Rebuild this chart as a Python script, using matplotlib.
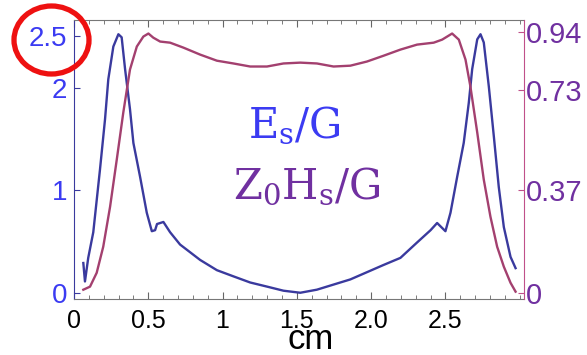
import matplotlib
matplotlib.use("Agg")
import matplotlib.pyplot as plt
from matplotlib.patches import Ellipse
from matplotlib.ticker import MultipleLocator

plt.rcParams['font.family'] = ['Liberation Sans', 'DejaVu Sans']
plt.rcParams['mathtext.fontset'] = 'dejavuserif'

# E_s/G (left axis)
es_x = [0.063, 0.074, 0.096, 0.130, 0.175, 0.209, 0.231, 0.265, 0.299, 0.321,
        0.344, 0.377, 0.400, 0.445, 0.490, 0.524, 0.546, 0.559, 0.602, 0.647,
        0.714, 0.849, 0.962, 1.073, 1.186, 1.299, 1.410, 1.523, 1.635, 1.860,
        2.082, 2.197, 2.309, 2.400, 2.444, 2.500, 2.534, 2.579, 2.623, 2.657,
        2.680, 2.714, 2.736, 2.758, 2.792, 2.826, 2.859, 2.893, 2.938, 2.972]
es_y = [0.29, 0.11, 0.34, 0.59, 1.20, 1.69, 2.08, 2.40, 2.52, 2.49,
        2.18, 1.79, 1.46, 1.13, 0.78, 0.60, 0.61, 0.67, 0.69, 0.59,
        0.47, 0.32, 0.22, 0.16, 0.10, 0.06, 0.02, 0.00, 0.03, 0.13,
        0.27, 0.34, 0.49, 0.61, 0.68, 0.60, 0.78, 1.13, 1.46, 1.85,
        2.18, 2.47, 2.52, 2.44, 2.01, 1.52, 1.03, 0.64, 0.35, 0.24]

# Z0 H_s/G (right axis)
hs_x = [0.063, 0.108, 0.153, 0.197, 0.243, 0.288, 0.332, 0.377, 0.423, 0.467,
        0.501, 0.534, 0.580, 0.647, 0.737, 0.849, 0.962, 1.073, 1.186, 1.299,
        1.410, 1.523, 1.635, 1.747, 1.860, 1.972, 2.084, 2.197, 2.309, 2.421,
        2.478, 2.545, 2.590, 2.635, 2.668, 2.714, 2.758, 2.803, 2.848, 2.893,
        2.938, 2.972]
hs_y = [0.011, 0.022, 0.072, 0.166, 0.310, 0.480, 0.650, 0.805, 0.888, 0.924,
        0.935, 0.920, 0.906, 0.902, 0.884, 0.859, 0.837, 0.827, 0.816, 0.816,
        0.827, 0.830, 0.827, 0.816, 0.819, 0.834, 0.855, 0.877, 0.895, 0.902,
        0.913, 0.935, 0.913, 0.841, 0.744, 0.578, 0.408, 0.274, 0.166, 0.094,
        0.036, 0.004]

x_ticks = [0, 0.5, 1, 1.5, 2, 2.5]
x_labels = ['0', '0.5', '1', '1.5', '2.0', '2.5']
left_ticks = [0, 1, 2, 2.5]
left_labels = ['0', '1', '2', '2.5']
right_ticks = [0, 0.37, 0.73, 0.94]
right_labels = ['0', '0.37', '0.73', '0.94']

blue_line = '#3a3a9e'
red_line = '#a3406f'
blue_txt = '#3b3bf2'
purple_txt = '#7030a0'

fig = plt.figure(figsize=(5.87, 3.55), dpi=100)
ax = fig.add_axes([0.126, 0.158, 0.767, 0.786])
ax2 = ax.twinx()

ax.plot(es_x, es_y, color=blue_line, lw=1.7, zorder=3, solid_joinstyle='round')
ax2.plot(hs_x, hs_y, color=red_line, lw=1.7, solid_joinstyle='round')

ylo, yhi = -0.06, 2.66
scale = 0.37
ax.set_xlim(0, 3.03)
ax.set_ylim(ylo, yhi)
ax2.set_ylim(ylo * scale, yhi * scale)

ax.set_xticks(x_ticks)
ax.set_xticklabels(x_labels, fontsize=18)
ax.xaxis.set_minor_locator(MultipleLocator(0.1))
ax.set_yticks(left_ticks)
ax.set_yticklabels(left_labels, fontsize=20, color=blue_txt)
ax2.set_yticks(right_ticks)
ax2.set_yticklabels(right_labels, fontsize=21, color=purple_txt)

ax.tick_params(axis='x', which='both', direction='in', top=True, color='#666666', pad=7)
ax.tick_params(axis='x', which='major', length=5)
ax.tick_params(axis='x', which='minor', length=3)
ax.tick_params(axis='y', direction='in', length=4, color=blue_line, pad=5)
ax2.tick_params(axis='y', direction='in', length=4, color='#c0508a', pad=1)

for s in ['top', 'bottom']:
    ax.spines[s].set_color('#777777')
ax.spines['left'].set_color(blue_line)
ax.spines['right'].set_visible(False)
for s in ['top', 'bottom', 'left']:
    ax2.spines[s].set_visible(False)
ax2.spines['right'].set_color('#c0508a')

fig.text(311 / 587, 1 - 349 / 355, 'cm', fontsize=25, ha='center', va='baseline')
fig.text(248 / 587, 1 - 137 / 355, r'$\mathrm{E_s/G}$', fontsize=30,
         color=blue_txt, ha='left', va='baseline')
fig.text(233 / 587, 1 - 198 / 355, r'$\mathrm{Z_0H_s/G}$', fontsize=30,
         color=purple_txt, ha='left', va='baseline')

fig.add_artist(Ellipse((51.5 / 587, 1 - 40 / 355), 75 / 587, 68 / 355,
                       transform=fig.transFigure, fill=False,
                       edgecolor='#ee1111', lw=3.8))

fig.savefig('out.png', dpi=100)
